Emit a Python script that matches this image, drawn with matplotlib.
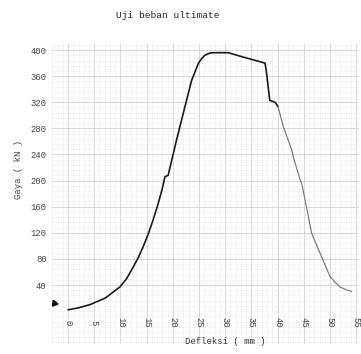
import matplotlib
matplotlib.use("Agg")
import matplotlib.pyplot as plt
import numpy as np

# Data
defleksi_load = [0.0, 2.0, 4.2, 7.1, 9.9, 11.2, 12.4, 13.4, 14.3, 15.3, 16.2, 17.1, 17.9,
                 18.5, 19.1, 20.7, 22.3, 23.6, 24.9, 25.5, 26.1, 26.9, 27.7, 30.6,
                 33.1, 37.6, 37.9, 38.5, 39.5, 40.1]
gaya_load = [2, 5, 10, 20, 37, 50, 67, 82, 98, 118, 139, 162, 185,
             206, 208, 262, 313, 354, 380, 387, 392, 395, 396, 396,
             390, 380, 364, 323, 320, 313]
defleksi_unload = [40.1, 41.1, 42.7, 43.0, 44.3, 44.6, 46.5, 48.4, 50.0, 51.0, 51.9, 53.0, 54.1]
gaya_unload = [313, 282, 247, 236, 201, 196, 119, 83, 53, 44, 37, 33, 30]

x_ticks = [0, 5, 10, 15, 20, 25, 30, 35, 40, 45, 50, 55]
y_ticks = [40, 80, 120, 160, 200, 240, 280, 320, 360, 400]

title = "Uji beban ultimate"
xlabel = "Defleksi ( mm )"
ylabel = "Gaya ( kN )"

mono = ["Liberation Mono", "DejaVu Sans Mono"]

fig = plt.figure(figsize=(3.61, 3.54), dpi=100)
ax = fig.add_axes([0.145, 0.029, 0.849, 0.848])
ax.set_xlim(-3, 55.5)
ax.set_ylim(-50, 410)

# graph-paper grid
ax.set_xticks(np.arange(-3, 56, 1), minor=True)
ax.set_yticks(np.arange(-48, 411, 8), minor=True)
ax.set_xticks(x_ticks)
ax.set_yticks(y_ticks)
ax.grid(which="minor", color="#ececec", lw=0.4)
ax.grid(which="major", color="#d0d0d0", lw=0.6)
ax.set_axisbelow(True)
for s in ax.spines.values():
    s.set_visible(False)

ax.tick_params(axis="both", which="both", length=0)
ax.set_yticklabels([str(v) for v in y_ticks], fontsize=6.4, family=mono, color="#444444")
ax.tick_params(axis="y", pad=4)
ax.set_xticklabels([])
for v in x_ticks:
    ax.text(v, -17, str(v), rotation=-90, ha="center", va="center",
            fontsize=6.4, family=mono, color="#444444")

ax.plot(defleksi_load, gaya_load, color="#1a1a1a", lw=1.2,
        solid_capstyle="round", solid_joinstyle="round")
ax.plot(defleksi_unload, gaya_unload, color="#707070", lw=0.8, solid_joinstyle="round")

# pen start marker
ax.plot([-2.6], [12], marker=(3, 0, 20), color="#111111", ms=5)

fig.text(0.465, 0.955, title, ha="center", va="center", fontsize=6.8, family=mono, color="#222222")
fig.text(0.625, 0.034, xlabel, ha="center", va="center", fontsize=6.4, family=mono, color="#333333")
fig.text(0.05, 0.52, ylabel, ha="center", va="center", rotation=90, fontsize=6.4, family=mono, color="#444444")

fig.savefig("out.png", dpi=100)
